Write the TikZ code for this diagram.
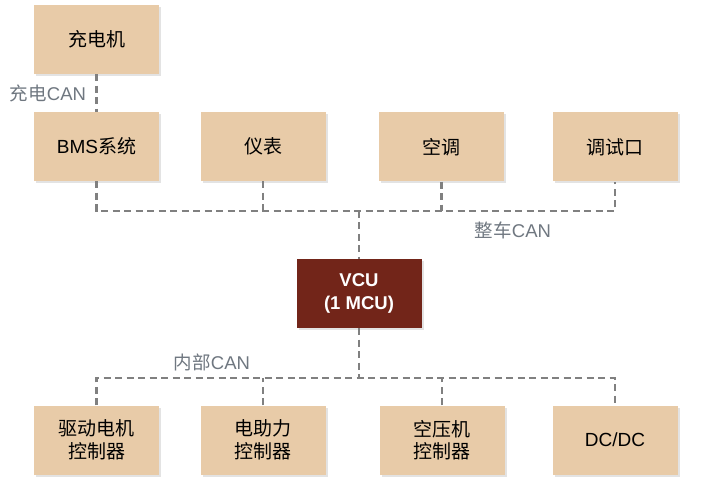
\documentclass[tikz,border=0pt]{standalone}
\usepackage{fontspec}
\setmainfont{Liberation Sans}
\newfontfamily\cjk{Noto Sans CJK SC}
\usetikzlibrary{shadows}
\definecolor{boxtan}{HTML}{E8CBA8}
\definecolor{vcured}{HTML}{722519}
\definecolor{busgray}{HTML}{808080}
\definecolor{labgray}{HTML}{6F7780}
\begin{document}
\begin{tikzpicture}[x=1pt,y=-1pt,
    unit/.style={fill=boxtan,minimum width=125pt,minimum height=69pt,inner sep=0pt,
        align=center,font=\fontsize{19}{22.5}\selectfont,
        drop shadow={shadow xshift=2pt,shadow yshift=-2pt,opacity=0.22}},
    core/.style={unit,fill=vcured,text=white,font=\fontsize{18.5}{23}\selectfont\bfseries},
    bus/.style={draw=busgray,line width=2.4pt,dash pattern=on 7pt off 4.5pt},
    buslabel/.style={text=labgray,font=\fontsize{18.5}{21}\selectfont,inner sep=1pt}]
    \useasboundingbox (0,0) rectangle (712,486);

    \node[unit] (chg) at (96.5,39.5) {\cjk 充电机};
    \node[unit] (bms) at (96.5,146.5) {BMS{\cjk 系统}};
    \node[unit] (meter) at (263,146.5) {\cjk 仪表};
    \node[unit] (ac) at (441.5,147) {\cjk 空调};
    \node[unit] (dbg) at (615,147) {\cjk 调试口};
    \node[core] (vcu) at (359,293.5) {VCU\\(1 MCU)};
    \node[unit] (drv) at (96.5,440) {\cjk 驱动电机\\\cjk 控制器};
    \node[unit] (eps) at (263,440) {\cjk 电助力\\\cjk 控制器};
    \node[unit] (cmp) at (442,440) {\cjk 空压机\\\cjk 控制器};
    \node[unit] (dcdc) at (615,440) {DC/DC};

    \coordinate (topbus) at (359,211);
    \coordinate (lowbus) at (359,378);

    \draw[bus] (chg.south) -- (bms.north);
    \draw[bus] (bms.south) |- (topbus) -| (dbg.south);
    \draw[bus] (meter.south) -- (meter.south |- topbus);
    \draw[bus] (ac.south) -- (ac.south |- topbus);
    \draw[bus] (topbus) -- (vcu.north);
    \draw[bus] (vcu.south) -- (lowbus);
    \draw[bus] (drv.north) |- (lowbus) -| (dcdc.north);
    \draw[bus] (eps.north) -- (eps.north |- lowbus);
    \draw[bus] (cmp.north) -- (cmp.north |- lowbus);

    \node[buslabel] (chglab) at (48,93) {{\cjk 充电}CAN};
    \node[buslabel] (carlab) at (513,230) {{\cjk 整车}CAN};
    \node[buslabel] (innerlab) at (212,362) {{\cjk 内部}CAN};
\end{tikzpicture}
\end{document}
